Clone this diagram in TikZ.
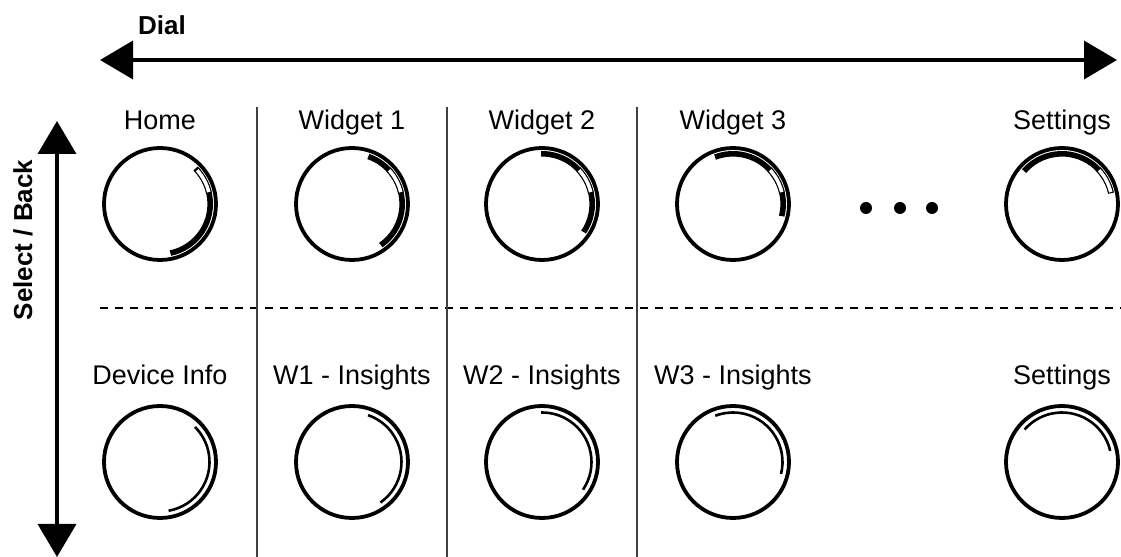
\documentclass[tikz,border=0pt]{standalone}
\usepackage{fontspec}
\setmainfont{Liberation Sans}
\usepackage{tikz}
\usetikzlibrary{arrows.meta,positioning}

\begin{document}
\begin{tikzpicture}[x=0.5pt,y=0.5pt,>={Triangle[length=16.5pt,width=19pt]},
                    line cap=butt]
  \tikzstyle{face}=[circle,draw=black,line width=1.9pt,minimum size=56pt,inner sep=0pt]
  \tikzstyle{dialname}=[inner sep=0pt,font=\fontsize{13.5}{16}\selectfont]
  \tikzstyle{axisname}=[inner sep=0pt,font=\fontsize{13}{16}\selectfont\bfseries]
  \tikzstyle{axis}=[<->,line width=1.8pt]
  \tikzstyle{progress}=[line width=2.8pt]
  \tikzstyle{window}=[line width=0.5pt,fill=white]
  \tikzstyle{track}=[line width=1.3pt]
  \tikzstyle{divider}=[line width=0.6pt,black!75]

  \useasboundingbox (0,0) rectangle (1121,557);

  % dial and select/back axes
  \coordinate (dialW) at (100,497);
  \coordinate (dialE) at (1117,497);
  \coordinate (selN) at (57,436);
  \coordinate (selS) at (57,0);
  \draw[axis] (dialW) -- (dialE);
  \draw[axis] (selN) -- (selS);
  \node[axisname,anchor=base] (dial) at (162,522) {Dial};
  \node[axisname,anchor=base,rotate=90] (sel) at (32,317) {Select / Back};

  % separators
  \coordinate (rowL) at (100,249);
  \coordinate (rowR) at (1121,249);
  \draw[dashed,dash pattern=on 4pt off 3.5pt,line width=1pt] (rowL) -- (rowR);
  \foreach \x in {257,447,637}
    \draw[divider] (\x,450) -- (\x,0);

  % screens
  \foreach \nm/\x/\txt/\a/\b in {home/160/Home/-78/45, wa/352/Widget 1/-55/71,
                                 wb/542/Widget 2/-34/91, wc/733/Widget 3/-14/111,
                                 set/1062/Settings/13/139}
  {
    \node[face] (\nm) at (\x,353) {};
    \node[dialname,anchor=base] (\nm-t) at (\x,427) {\txt};
    \draw[progress] ([shift={(\a:25.1pt)}]\nm.center)
      arc[start angle=\a,end angle=\b,radius=25.1pt];
    \draw[window] ([shift={(13:23.9pt)}]\nm.center)
      arc[start angle=13,end angle=43,radius=23.9pt]
      -- ([shift={(43:26.3pt)}]\nm.center)
      arc[start angle=43,end angle=13,radius=26.3pt] -- cycle;
  }

  \foreach \nm/\x/\txt/\a/\b in {info/160/Device Info/-80/45, wai/352/W1 - Insights/-55/71,
                                 wbi/542/W2 - Insights/-34/91, wci/733/W3 - Insights/-14/111,
                                 seti/1062/Settings/13/139}
  {
    \node[face] (\nm) at (\x,95) {};
    \node[dialname,anchor=base] (\nm-t) at (\x,172) {\txt};
    \draw[track] ([shift={(\a:24.75pt)}]\nm.center)
      arc[start angle=\a,end angle=\b,radius=24.75pt];
  }

  % more screens
  \foreach \x in {866,900,932}
    \fill (\x,349) circle (3pt);
\end{tikzpicture}
\end{document}
